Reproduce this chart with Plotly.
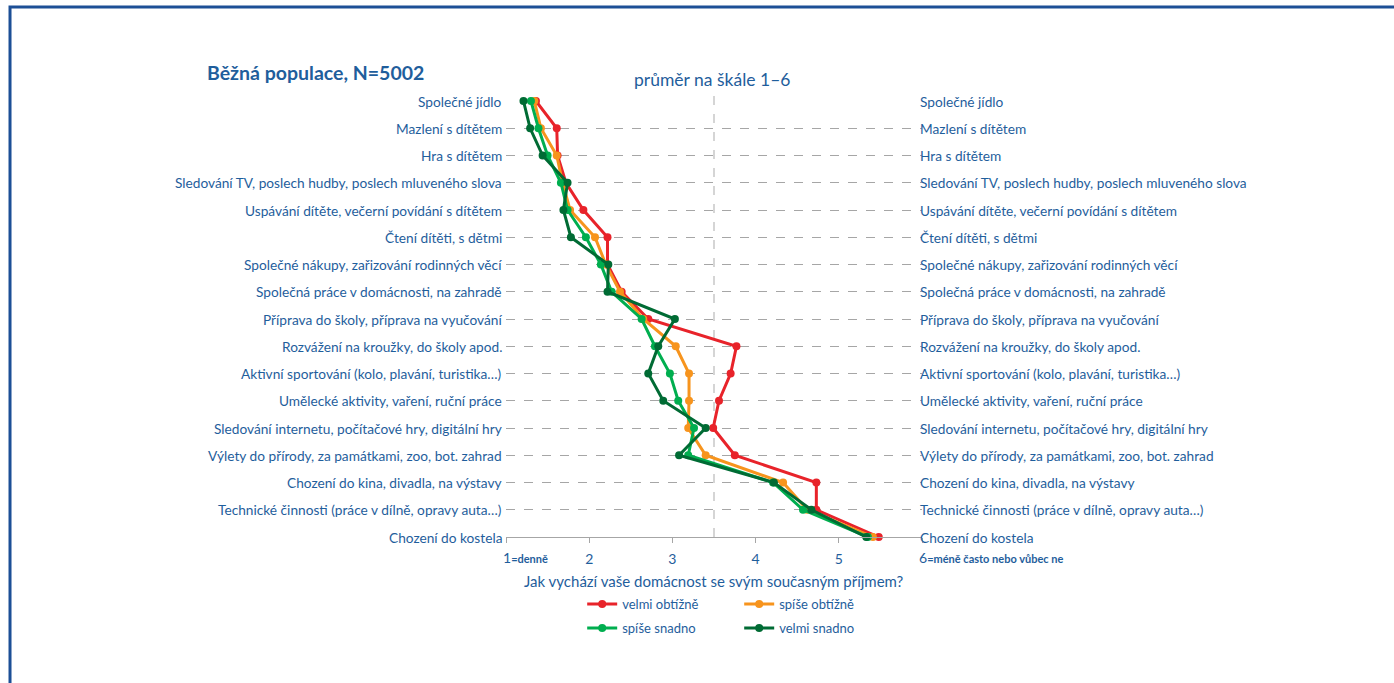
import plotly.graph_objects as go

# Activity categories (top to bottom)
categories = [
    "Společné jídlo",
    "Mazlení s dítětem",
    "Hra s dítětem",
    "Sledování TV, poslech hudby, poslech mluveného slova",
    "Uspávání dítěte, večerní povídání s dítětem",
    "Čtení dítěti, s dětmi",
    "Společné nákupy, zařizování rodinných věcí",
    "Společná práce v domácnosti, na zahradě",
    "Příprava do školy, příprava na vyučování",
    "Rozvážení na kroužky, do školy apod.",
    "Aktivní sportování (kolo, plavání, turistika…)",
    "Umělecké aktivity, vaření, ruční práce",
    "Sledování internetu, počítačové hry, digitální hry",
    "Výlety do přírody, za památkami, zoo, bot. zahrad",
    "Chození do kina, divadla, na výstavy",
    "Technické činnosti (práce v dílně, opravy auta…)",
    "Chození do kostela",
]

# Mean frequency (1 = daily, 6 = less often or never) by household income situation
velmi_obtizne = [1.36, 1.61, 1.62, 1.72, 1.93, 2.22, 2.22, 2.39, 2.71, 3.77, 3.70, 3.56, 3.49, 3.75, 4.73, 4.73, 5.48]
spise_obtizne = [1.34, 1.42, 1.61, 1.68, 1.77, 2.07, 2.20, 2.37, 2.65, 3.04, 3.20, 3.20, 3.19, 3.40, 4.33, 4.62, 5.41]
spise_snadno  = [1.30, 1.39, 1.50, 1.66, 1.74, 1.96, 2.14, 2.27, 2.63, 2.79, 2.97, 3.07, 3.26, 3.19, 4.21, 4.57, 5.35]
velmi_snadno  = [1.21, 1.29, 1.44, 1.74, 1.69, 1.78, 2.23, 2.22, 3.03, 2.83, 2.71, 2.89, 3.40, 3.08, 4.22, 4.67, 5.33]

series_names = ["velmi obtížně", "spíše obtížně", "spíše snadno", "velmi snadno"]
series_values = [velmi_obtizne, spise_obtizne, spise_snadno, velmi_snadno]
series_colors = ["#E8232A", "#F7941D", "#00AE4F", "#006B34"]
series_legend = ["legend", "legend", "legend2", "legend2"]

inner_ticks = [2, 3, 4, 5]
end_labels = {1: "=denně", 6: "=méně často nebo vůbec ne"}

W, H = 1394, 683
L, R, T, B = 505.7, W - 922.3, 101, H - 537
PW, PH = W - L - R, H - T - B

TEXT = "#1F5E9C"
FONT = "Lato"
LABEL_SIZE = 13.7

def px_x(px):
    return (px - L) / PW

def px_y(py):
    return (H - B - py) / PH

ypos = list(range(len(categories)))

fig = go.Figure()
for name, vals, col, lg in zip(series_names, series_values, series_colors, series_legend):
    fig.add_trace(go.Scatter(
        x=vals, y=ypos, name=name, mode="lines+markers",
        line=dict(color=col, width=3),
        marker=dict(color=col, size=8),
        cliponaxis=False, legend=lg,
    ))

annotations = []
for i, c in enumerate(categories):
    annotations.append(dict(xref="paper", yref="y", x=0, y=i, text=c, showarrow=False,
                            xanchor="right", yanchor="middle", xshift=-2,
                            font=dict(size=LABEL_SIZE, color=TEXT, family=FONT)))
    annotations.append(dict(xref="paper", yref="y", x=1, y=i, text=c, showarrow=False,
                            xanchor="left", yanchor="middle", xshift=-4,
                            font=dict(size=LABEL_SIZE, color=TEXT, family=FONT)))

# end-of-scale tick labels with their verbal meaning
for val, txt in end_labels.items():
    annotations.append(dict(xref="x", yref="paper", x=val, y=px_y(557),
                            text=f"<span style='font-size:14px'>{val}</span><b>{txt}</b>",
                            showarrow=False, xanchor="left", yanchor="middle", xshift=-5,
                            font=dict(size=11, color=TEXT, family=FONT)))

annotations += [
    dict(xref="paper", yref="paper", x=px_x(204), y=px_y(72), text="<b>Běžná populace, N=5002</b>",
         showarrow=False, xanchor="left", yanchor="middle", font=dict(size=19.5, color=TEXT, family=FONT)),
    dict(xref="paper", yref="paper", x=px_x(712), y=px_y(80), text="průměr na škále 1–6",
         showarrow=False, xanchor="center", yanchor="middle", font=dict(size=17.5, color=TEXT, family=FONT)),
    dict(xref="paper", yref="paper", x=px_x(714), y=px_y(581),
         text="Jak vychází vaše domácnost se svým současným příjmem?",
         showarrow=False, xanchor="center", yanchor="middle", font=dict(size=15, color=TEXT, family=FONT)),
]

shapes = [
    # vertical reference line at the scale midpoint
    dict(type="line", xref="x", yref="paper", x0=3.5, x1=3.5, y0=0, y1=px_y(92),
         line=dict(color="#C8C8C8", width=1.5, dash="dash"), layer="below"),
    # outer frame
    dict(type="rect", xref="paper", yref="paper", x0=px_x(9), x1=px_x(W + 20),
         y0=px_y(H + 20), y1=px_y(7), line=dict(color="#1C4F96", width=3)),
]

legend_style = dict(orientation="h", xanchor="left", yanchor="middle",
                    entrywidth=112, entrywidthmode="pixels",
                    font=dict(size=13, color=TEXT, family=FONT),
                    bgcolor="rgba(0,0,0,0)", itemwidth=30, tracegroupgap=0)

fig.update_layout(
    width=W, height=H,
    margin=dict(l=L, r=R, t=T, b=B, pad=0),
    paper_bgcolor="white", plot_bgcolor="white",
    font=dict(family=FONT, color=TEXT),
    xaxis=dict(range=[1, 6], tickvals=[1, 6] + inner_ticks, ticktext=["", ""] + [str(v) for v in inner_ticks],
               showgrid=False, zeroline=False, showline=True, linecolor="#A6A6A6", linewidth=1,
               ticks="outside", ticklen=5, tickcolor="#A6A6A6", ticklabelstandoff=4,
               tickfont=dict(size=14, color=TEXT, family=FONT)),
    yaxis=dict(range=[16, 0], tickvals=ypos, showticklabels=False, showgrid=True,
               gridcolor="#A6A6A6", griddash="dash", gridwidth=1, zeroline=False, showline=False),
    legend=dict(x=px_x(582), y=px_y(604), **legend_style),
    legend2=dict(x=px_x(582), y=px_y(628), **legend_style),
    annotations=annotations,
    shapes=shapes,
)

fig.write_html("out.html")
